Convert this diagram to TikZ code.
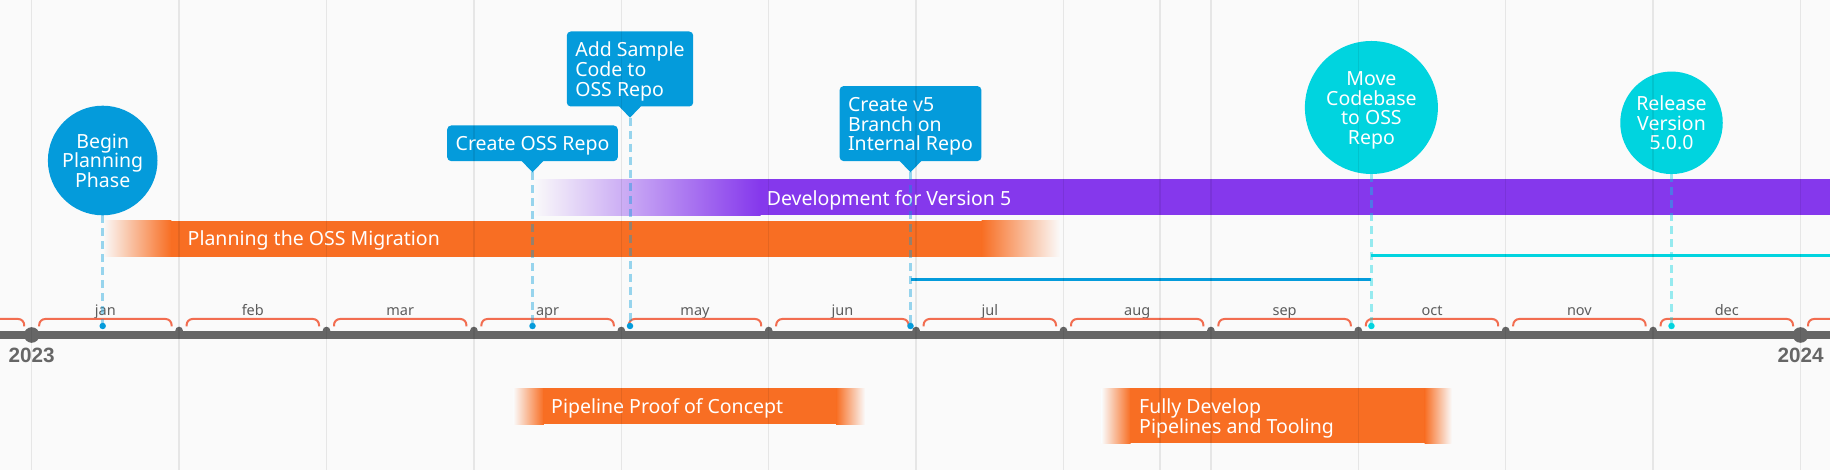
\documentclass[tikz,border=0pt]{standalone}
\usepackage{fontspec}
\setmainfont{Noto Sans}
\newfontfamily\yrfont{Liberation Sans}
\usepackage{xcolor}
\usetikzlibrary{positioning,calc}
\definecolor{bgc}{HTML}{FAFAFA}
\definecolor{evblue}{HTML}{049BDB}
\definecolor{evcyan}{HTML}{00D4DF}
\definecolor{barorange}{HTML}{F86E23}
\definecolor{barpurple}{HTML}{8538EC}
\definecolor{brkc}{HTML}{F26D50}
\definecolor{axisc}{HTML}{666666}
\definecolor{monc}{HTML}{5C5C5C}
\newcommand{\evl}[1]{\rule[-2.3pt]{0pt}{19.6pt}\smash{#1}}

\begin{document}
\begin{tikzpicture}[x=1pt,y=1pt]
  \tikzset{
    evtxt/.style={text=white,font=\fontsize{19.5}{19.7}\selectfont},
    evcirc/.style={circle,fill=#1,inner sep=0pt,align=center,evtxt},
    evbox/.style={rectangle,rounded corners=4pt,fill=evblue,inner xsep=8.5pt,inner ysep=8pt,
                  align=left,evtxt,anchor=south},
    evline/.style={#1,opacity=0.4,line width=3pt,dash pattern=on 8pt off 5pt},
    evdot/.style={circle,fill=#1,inner sep=0pt,minimum size=6.5pt},
    bartxt/.style={evtxt,anchor=west,inner sep=0pt,align=left},
    rng/.style={line width=3.5pt,#1},
    brk/.style={draw=brkc,line width=2pt,rounded corners=6pt},
    monlbl/.style={text=monc,font=\fontsize{14.5}{15}\selectfont,inner sep=0pt,anchor=base},
    yrdot/.style={circle,fill=axisc,inner sep=0pt,minimum size=15.6pt},
    yrlbl/.style={text=axisc,font=\yrfont\bfseries\fontsize{20.7}{21}\selectfont,inner sep=0pt},
    grid/.style={black,opacity=0.08,line width=1.5pt}}
  \useasboundingbox (0,0) rectangle (1830,470);
  \clip (0,0) rectangle (1830,470);
  \fill[bgc] (0,0) rectangle (1830,470);
  \shade[left color=bgc,right color=barpurple] (533,254.5) rectangle (760.5,290.7);
  \fill[barpurple] (760,254.5) rectangle (1830,290.7);
  \shade[left color=bgc,right color=barorange] (102.8,213) rectangle (171.3,249);
  \fill[barorange] (170.8,213) rectangle (982,249);
  \shade[left color=barorange,right color=bgc] (981.5,213) rectangle (1060,249);
  \shade[left color=bgc,right color=barorange] (513.3,45.7) rectangle (543.8,81.7);
  \fill[barorange] (543.3,45.7) rectangle (836.7,81.7);
  \shade[left color=barorange,right color=bgc] (836.2,45.7) rectangle (865,81.7);
  \shade[left color=bgc,right color=barorange] (1101.7,26.7) rectangle (1130.5,81.7);
  \fill[barorange] (1130,26.7) rectangle (1425,81.7);
  \shade[left color=barorange,right color=bgc] (1424.5,26.7) rectangle (1451.7,81.7);
  \node[evtxt,inner sep=0pt] (tdev) at (889,272.4) {\evl{Development for Version 5}};
  \node[bartxt] (tplan) at (187.5,232.1) {\evl{Planning the OSS Migration}};
  \node[bartxt] (tpipe) at (551,63.9) {\evl{Pipeline Proof of Concept}};
  \node[bartxt] (tfull) at (1139,53.7) {\evl{Fully Develop}\\\evl{Pipelines and Tooling}};
  \coordinate (r4) at (910.5,190.5);
  \coordinate (r5) at (1371.4,190.5);
  \coordinate (c5s) at (1371.4,214.5);
  \coordinate (cend) at (1830,214.5);
  \draw[rng=evblue] (r4) -- (r5);
  \draw[rng=evcyan] (c5s) -- (cend);
  \foreach \m [count=\i from 0] in {jan,feb,mar,apr,may,jun,jul,aug,sep,oct,nov,dec}{
    \node[monlbl] (m\i) at ({31.7+147.4*\i+73.7},154) {\m};
    \draw[brk] ({31.7+147.4*\i+7.5},143.5) |- ({31.7+147.4*\i+73.7},151)
      -| ({31.7+147.4*(\i+1)-7.5},143.5);
  }
  \draw[brk] (-30,151) -| (24.2,143.5);
  \draw[brk] (1808,143.5) |- (1860,151);
  \draw[axisc,line width=8pt] (0,135) -- (1830,135);
  \foreach \i in {1,...,11}
    \fill[axisc] ({31.7+147.4*\i},139.5) circle (3.8);
  \node[yrdot] (y23) at (31.7,135) {};
  \node[yrdot] (y24) at (1800.5,135) {};
  \node[yrlbl,below=5pt of y23] (l23) {2023};
  \node[yrlbl,below=5pt of y24] (l24) {2024};
  \node[evcirc=evblue,minimum size=109.6pt] (c1) at (102.7,309.5)
    {\evl{Begin}\\\evl{Planning}\\\evl{Phase}};
  \node[evcirc=evcyan,minimum size=133pt] (c5) at (1371.4,362.5)
    {\evl{Move}\\\evl{Codebase}\\\evl{to OSS}\\\evl{Repo}};
  \node[evcirc=evcyan,minimum size=102.5pt] (c6) at (1671.5,347.2)
    {\evl{Release}\\\evl{Version}\\\evl{5.0.0}};
  \node[evbox] (b2) at (532.5,308.7) {\evl{Create OSS Repo}};
  \node[evbox] (b3) at (630,363.3) {\evl{Add Sample}\\\evl{Code to}\\\evl{OSS Repo}};
  \node[evbox] (b4) at (910.5,308.7) {\evl{Create v5}\\\evl{Branch on}\\\evl{Internal Repo}};
  \foreach \b in {b2,b3,b4}
    \fill[evblue] ($(\b.south)+(-11,0.5)$) -- ($(\b.south)+(11,0.5)$)
      -- ($(\b.south)+(0,-11)$) coordinate (t\b) -- cycle;
  \node[evdot=evblue] (d1) at (102.7,144) {};
  \node[evdot=evblue] (d2) at (532.5,144) {};
  \node[evdot=evblue] (d3) at (630,144) {};
  \node[evdot=evblue] (d4) at (910.5,144) {};
  \node[evdot=evcyan] (d5) at (1371.4,144) {};
  \node[evdot=evcyan] (d6) at (1671.5,144) {};
  \draw[evline=evblue] (c1) -- (d1);
  \draw[evline=evblue] (tb2) -- (d2);
  \draw[evline=evblue] (tb3) -- (d3);
  \draw[evline=evblue] (tb4) -- (d4);
  \draw[evline=evcyan] (c5) -- (d5);
  \draw[evline=evcyan] (c6) -- (d6);
  \foreach \i in {0,...,12}
    \draw[grid] ({31.7+147.4*\i},0) -- ++(0,470);
  \draw[grid] (1160,0) -- ++(0,470);
\end{tikzpicture}
\end{document}
